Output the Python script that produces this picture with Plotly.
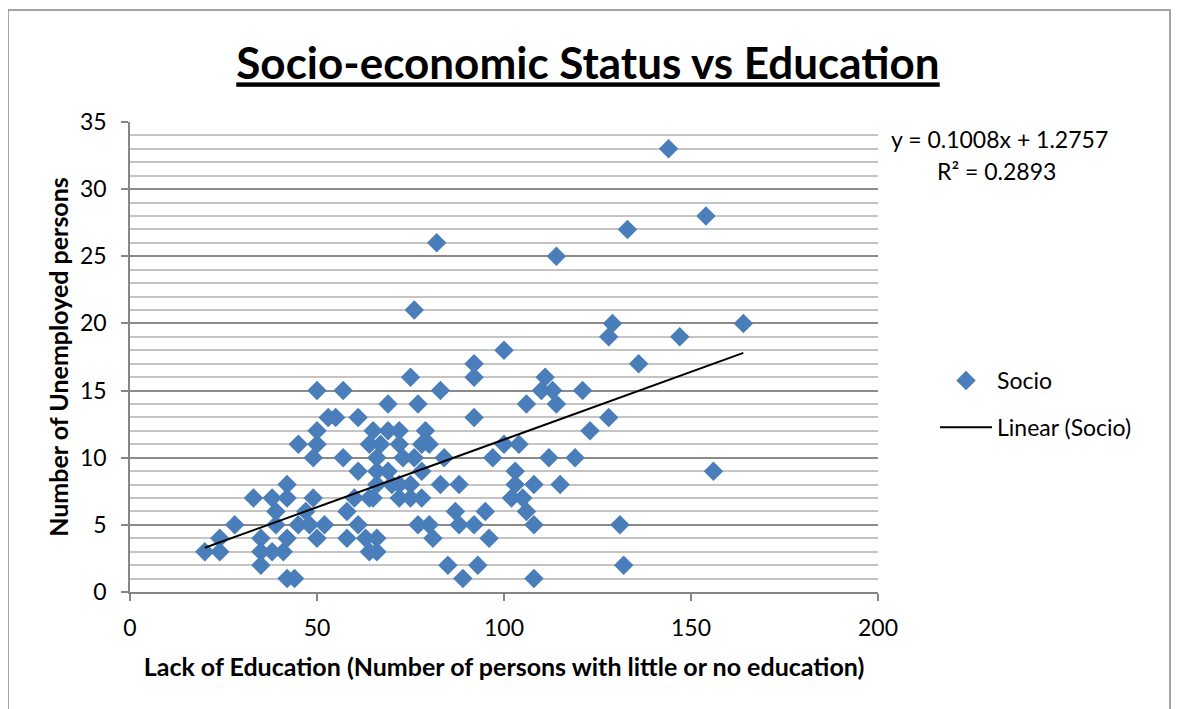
import plotly.graph_objects as go

# Lack of education (x) and number of unemployed persons (y)
education = [20, 24, 24, 28, 33, 35, 35, 35, 38, 41, 38, 42, 42, 39, 39, 45, 42, 42, 44,
             45, 47, 48, 49, 50, 50, 50, 50, 49, 52, 53, 55, 57, 57, 58, 58, 61, 60, 61,
             61, 63, 64, 64, 64, 65, 66, 66, 66, 66, 65, 66, 67, 69, 69, 69, 70, 72, 72,
             72, 72, 73, 75, 75, 75, 76, 76, 77, 77, 78, 78, 78, 79, 80, 80, 81, 82, 83,
             83, 84, 85, 87, 88, 88, 89, 92, 92, 92, 92, 93, 95, 96, 97, 100, 100, 102,
             103, 103, 104, 105, 106, 106, 108, 108, 108, 110, 111, 112, 113, 114, 114,
             115, 119, 121, 123, 128, 128, 129, 131, 132, 133, 136, 144, 147, 154, 156, 164]
unemployed = [3, 4, 3, 5, 7, 4, 3, 2, 3, 3, 7, 8, 7, 6, 5, 5, 4, 1, 1,
              11, 6, 5, 7, 4, 15, 12, 11, 10, 5, 13, 13, 15, 10, 6, 4, 13, 7, 9,
              5, 4, 7, 3, 11, 12, 10, 9, 3, 4, 7, 8, 11, 14, 12, 9, 8, 12, 11,
              7, 8, 10, 16, 7, 8, 10, 21, 14, 5, 7, 11, 9, 12, 11, 5, 4, 26, 15,
              8, 10, 2, 6, 8, 5, 1, 17, 16, 13, 5, 2, 6, 4, 10, 18, 11, 7,
              8, 9, 11, 7, 6, 14, 8, 5, 1, 15, 16, 10, 15, 14, 25,
              8, 10, 15, 12, 13, 19, 20, 5, 2, 27, 17, 33, 19, 28, 9, 20]

# Linear trendline coefficients (from the chart)
slope = 0.1008
intercept = 1.2757
r_squared = 0.2893

x_ticks = [0, 50, 100, 150, 200]
y_ticks = [0, 5, 10, 15, 20, 25, 30, 35]

FONT = "Lato"
BLUE = "#4A7EBB"

# page offset introduced by the html body margin
OFF = 8
W, H = 1186 - OFF, 709 - OFF
# plot area in page pixels
PL, PR, PT, PB = 130, 878, 122, 592
PW, PH = PR - PL, PB - PT


def px(xp):
    return (xp - PL) / PW


def py(yp):
    return (PB - yp) / PH


x_line = [min(education), max(education)]
y_line = [slope * v + intercept for v in x_line]

fig = go.Figure()
fig.add_trace(go.Scatter(
    x=education, y=unemployed, mode="markers", name="Socio",
    legendgroup="a",
    marker=dict(symbol="diamond", size=15, color=BLUE, line=dict(width=0)),
))
fig.add_trace(go.Scatter(
    x=x_line, y=y_line, mode="lines", name="Linear (Socio)",
    legendgroup="b",
    line=dict(color="black", width=2),
))

axis_common = dict(
    showline=True, linecolor="#868686", linewidth=1.5,
    ticks="outside", tickcolor="#868686", ticklen=7, tickwidth=1.5,
    tickfont=dict(family=FONT, size=23, color="black"),
    zeroline=False,
)

fig.update_xaxes(
    range=[0, 200], tickvals=x_ticks, showgrid=False,
    ticklabelstandoff=8,
    title=dict(text="<b>Lack of Education (Number of persons with little or no education)</b>",
               font=dict(family=FONT, size=25, color="black"), standoff=18),
    **axis_common,
)
fig.update_yaxes(
    range=[0, 35], tickvals=y_ticks,
    showgrid=True, gridcolor="#8a8a8a", gridwidth=1.5,
    minor=dict(dtick=1, showgrid=True, gridcolor="#c4c4c4", gridwidth=1.5, ticks=""),
    ticklabelstandoff=10,
    title=dict(text="<b>Number of Unemployed persons</b>",
               font=dict(family=FONT, size=25, color="black"), standoff=4),
    **axis_common,
)

fig.update_layout(
    width=W, height=H,
    margin=dict(l=PL - OFF, r=W - (PR - OFF), t=PT - OFF, b=H - (PB - OFF)),
    paper_bgcolor="white", plot_bgcolor="white",
    title=dict(text="<u><b>Socio-economic Status vs Education</b></u>",
               font=dict(family=FONT, size=44, color="black"),
               x=(588 - OFF) / W, xanchor="center", y=1 - (64 - OFF) / H, yanchor="middle"),
    legend=dict(x=px(935), xanchor="left", y=py(404), yanchor="middle",
                font=dict(family=FONT, size=23, color="black"),
                traceorder="grouped", tracegroupgap=14, itemwidth=52,
                bgcolor="rgba(0,0,0,0)"),
    showlegend=True,
    annotations=[
        dict(text="y = 0.1008x + 1.2757", xref="paper", yref="paper",
             x=px(999), y=py(139), xanchor="center", yanchor="middle",
             showarrow=False, font=dict(family=FONT, size=23, color="black")),
        dict(text="R² = 0.2893", xref="paper", yref="paper",
             x=px(996), y=py(171), xanchor="center", yanchor="middle",
             showarrow=False, font=dict(family=FONT, size=23, color="black")),
    ],
    shapes=[dict(type="rect", xref="paper", yref="paper",
                 x0=px(8), x1=px(1170), y0=py(730), y1=py(10),
                 line=dict(color="#868686", width=1.5), fillcolor="rgba(0,0,0,0)",
                 layer="below")],
)

fig.write_html("out.html")
